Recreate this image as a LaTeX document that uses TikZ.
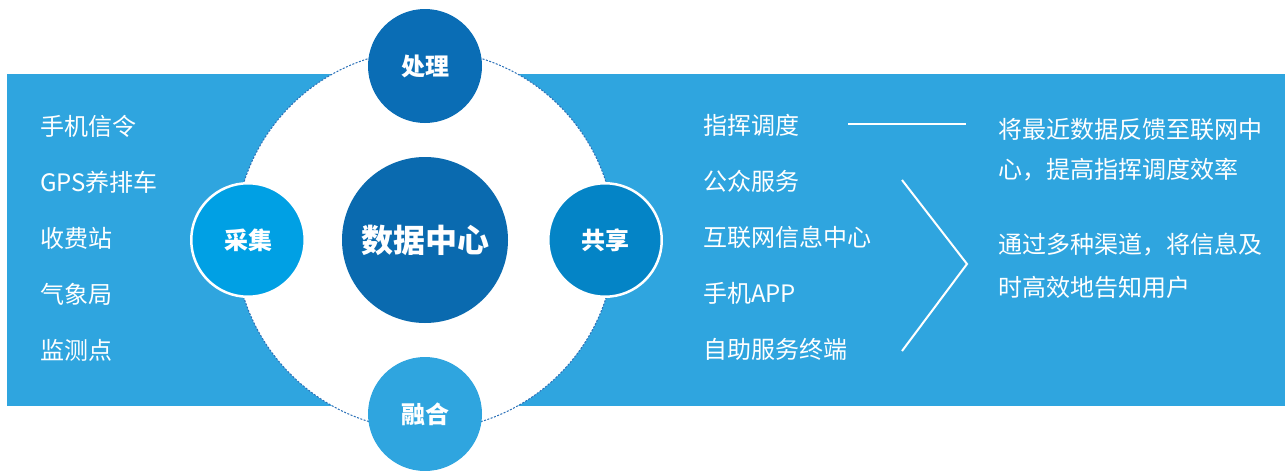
\documentclass[tikz,border=0pt]{standalone}
\usepackage{fontspec}
\setmainfont{Noto Sans CJK SC}
\definecolor{bandblue}{HTML}{2FA5DF}
\definecolor{ringblue}{HTML}{2A70B8}
\definecolor{coreblue}{HTML}{0A6AAF}
\definecolor{topblue}{HTML}{0A6DB5}
\definecolor{leftblue}{HTML}{00A0E4}
\definecolor{rightblue}{HTML}{0484C6}

\begin{document}
\begin{tikzpicture}[x=1pt,y=-1pt]
  \tikzset{item/.style={anchor=west,inner sep=0pt,text=white,font=\fontsize{24}{28}\selectfont},
    hub/.style={circle,minimum size=#1,inner sep=0pt,text=white,font=\bfseries\fontsize{24}{28}\selectfont},
    link/.style={draw=white,line width=2pt}}
  \useasboundingbox (0,0) rectangle (1285,471);
  \fill[bandblue] (7,74) rectangle (1285,406);
  % ring and hubs
  \node[circle,fill=white,draw=ringblue,line width=1pt,dash pattern=on 2pt off 1.5pt,
    minimum size=380pt,inner sep=0pt] (ring) at (425,240) {};
  \node[hub=166pt,fill=coreblue,font=\bfseries\fontsize{32}{36}\selectfont] (core) at (425,240) {数据中心};
  \node[hub=114pt,fill=topblue] (proc) at (425,66) {处理};
  \node[hub=114pt,fill=bandblue] (fuse) at (425,414) {融合};
  \node[hub=113.5pt,fill=leftblue,draw=white,line width=2.5pt] (collect) at (248,240) {采集};
  \node[hub=113.5pt,fill=rightblue,draw=white,line width=2.5pt] (share) at (605,240) {共享};
  % sources and uses
  \foreach \txt [count=\i] in {手机信令,GPS养排车,收费站,气象局,监测点}
    \node[item] (src\i) at (40,{126+56*(\i-1)}) {\txt};
  \foreach \txt [count=\i] in {指挥调度,公众服务,互联网信息中心,手机APP,自助服务终端}
    \node[item] (use\i) at (703,{125+56*(\i-1)}) {\txt};
  % descriptions
  \node[item] (fbA) at (998,129) {将最近数据反馈至联网中};
  \node[item] (fbB) at (998,170) {心，提高指挥调度效率};
  \node[item] (pubA) at (998,245) {通过多种渠道，将信息及};
  \node[item] (pubB) at (998,287) {时高效地告知用户};
  % connectors
  \coordinate (lineA) at (848,124);
  \coordinate (lineB) at (966,124);
  \coordinate (vtop) at (902,180);
  \coordinate (vtip) at (967,264);
  \coordinate (vbot) at (902,351);
  \draw[link] (lineA) -- (lineB);
  \draw[link] (vtop) -- (vtip) -- (vbot);
\end{tikzpicture}
\end{document}
